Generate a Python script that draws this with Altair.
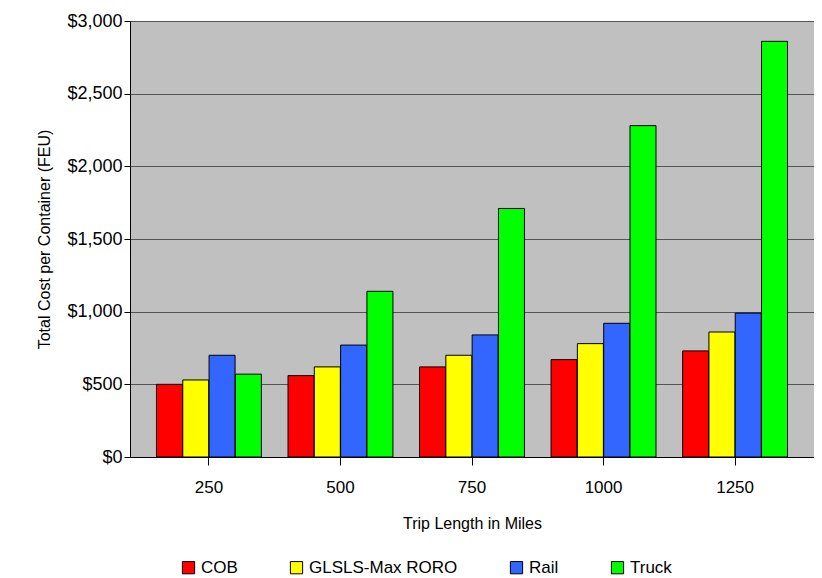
import altair as alt
import pandas as pd

trips = ['250', '500', '750', '1000', '1250']
modes = ['COB', 'GLSLS-Max RORO', 'Rail', 'Truck']
colors = ['#FF0000', '#FFFF00', '#3366FF', '#00FF00']

cob = [500, 560, 620, 670, 730]
glsls = [530, 620, 700, 780, 860]
rail = [700, 770, 840, 920, 990]
truck = [570, 1140, 1710, 2280, 2860]

rows = []
for mode, vals in zip(modes, [cob, glsls, rail, truck]):
    for t, v in zip(trips, vals):
        rows.append({'Trip': t, 'Mode': mode, 'Cost': v})
data = pd.DataFrame(rows)

chart = alt.Chart(data).mark_bar(stroke='black', strokeWidth=1, width=26).encode(
    x=alt.X('Trip:N', sort=trips, title='Trip Length in Miles',
            axis=alt.Axis(labelAngle=0, labelFontSize=17, titleFontSize=16, titlePadding=20,
                          labelPadding=14, tickSize=8, domainColor='black', tickColor='black',
                          labelColor='black', titleColor='black', titleFontWeight='normal')),
    xOffset=alt.XOffset('Mode:N', sort=modes, scale=alt.Scale(paddingInner=0, paddingOuter=0)),
    y=alt.Y('Cost:Q', title='Total Cost per Container (FEU)',
            scale=alt.Scale(domain=[0, 3000]),
            axis=alt.Axis(format='$,.0f', values=list(range(0, 3001, 500)), labelFontSize=18,
                          titleFontSize=16, titleFontWeight='normal', tickSize=6,
                          domainColor='black', tickColor='black', gridColor='#555555',
                          labelColor='black', titleColor='black', titlePadding=14)),
    color=alt.Color('Mode:N', sort=modes, scale=alt.Scale(domain=modes, range=colors),
                    legend=alt.Legend(orient='none', legendX=50, legendY=538,
                                      direction='horizontal', title=None,
                                      symbolType='square', symbolSize=150, symbolStrokeColor='black',
                                      symbolStrokeWidth=1, labelFontSize=17, columnPadding=50,
                                      labelColor='black'))
).properties(
    width=684,
    height=436,
    background='white',
    padding={'left': 28, 'top': 4, 'right': 0, 'bottom': 5}
).configure_view(
    fill='#C0C0C0', stroke='#777777'
).configure_axis(
    labelFont='Liberation Sans', titleFont='Liberation Sans'
).configure_legend(
    labelFont='Liberation Sans'
).configure_scale(bandPaddingInner=0.2, bandPaddingOuter=0.1)

chart.save("out.html", embed_options={"renderer": "svg", "actions": False})
